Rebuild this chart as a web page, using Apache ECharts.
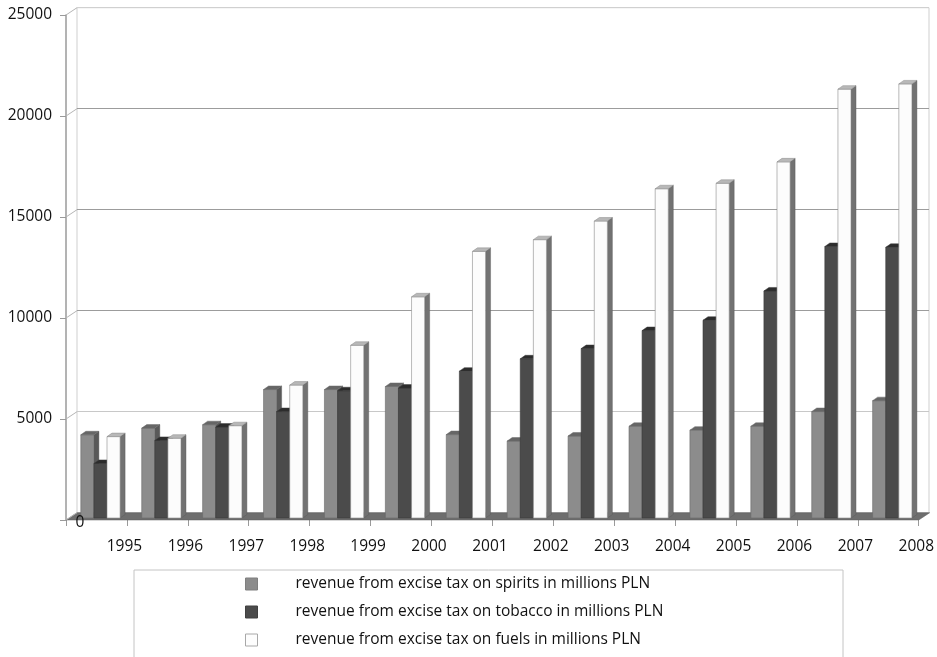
<!DOCTYPE html>
<html>
<head>
<meta charset="utf-8">
<script src="https://cdn.jsdelivr.net/npm/echarts@6/dist/echarts.min.js"></script>
<style>
html,body{margin:0;padding:0;background:#fff;}
#main{width:937px;height:657px;}
</style>
</head>
<body>
<div id="main"></div>
<script>
const categories = ['1995','1996','1997','1998','1999','2000','2001','2002','2003','2004','2005','2006','2007','2008'];
const spiritsValues = [4120, 4450, 4620, 6360, 6360, 6510, 4130, 3810, 4060, 4540, 4350, 4540, 5270, 5810];
const tobaccoValues = [2700, 3840, 4500, 5270, 6300, 6430, 7270, 7880, 8390, 9280, 9790, 11240, 13440, 13400];
const fuelsValues = [4030, 3950, 4570, 6580, 8550, 10950, 13200, 13780, 14700, 16300, 16570, 17630, 21230, 21490];
const yTickValues = [0, 5000, 10000, 15000, 20000, 25000];
const seriesNames = [
  'revenue from excise tax on spirits in millions PLN',
  'revenue from excise tax on tobacco in millions PLN',
  'revenue from excise tax on fuels in millions PLN'
];

const FONT = 'Open Sans';
const TEXT_COLOR = '#111111';
const DEPTH_X = 11, DEPTH_Y = -7.3;   // back wall offset
const BAR_OFF_X = 4, BAR_OFF_Y = -2;  // bars slightly behind front plane
const SX = 5, SY = 3.5;               // bar depth faces

const palettes = [
  {front:'#8c8c8c', top:'#666666', side:'#595959', stroke:'#6a6a6a'},
  {front:'#4b4b4b', top:'#2c2c2c', side:'#363636', stroke:'#3a3a3a'},
  {front:'#fcfcfc', top:'#b8b8b8', side:'#727272', stroke:'#8a8a8a'}
];

function barRender(si){
  const pal = palettes[si];
  return function(params, api){
    const idx = api.value(0), v = api.value(1);
    const band = api.size([1, 0])[0];
    const bw = band * 0.215;
    const c = api.coord([idx, v]);
    const b = api.coord([idx, 0]);
    const x0 = c[0] - 1.5 * bw + si * bw + BAR_OFF_X;
    const yTop = c[1] + BAR_OFF_Y, yBase = b[1] + BAR_OFF_Y;
    return {type:'group', children:[
      {type:'polygon', shape:{points:[[x0+bw,yBase],[x0+bw,yTop],[x0+bw+SX,yTop-SY],[x0+bw+SX,yBase-SY]]},
        style:{fill:pal.side, stroke:'#555', lineWidth:0.4}},
      {type:'rect', shape:{x:x0, y:yTop, width:bw, height:yBase-yTop},
        style:{fill:pal.front, stroke:pal.stroke, lineWidth:0.6}},
      {type:'polygon', shape:{points:[[x0,yTop],[x0+bw,yTop],[x0+bw+SX,yTop-SY],[x0+SX,yTop-SY]]},
        style:{fill:pal.top, stroke:pal.stroke, lineWidth:0.5}}
    ]};
  };
}

const chart = echarts.init(document.getElementById('main'), null, {renderer:'canvas'});

const option = {
  animation: false,
  backgroundColor: '#fff',
  grid: [
    {left: 66, right: 18, top: 15, bottom: 137},
    {left: 77, right: 8, top: 7.7, bottom: 144.3, show: true, borderColor: '#cfcfcf', borderWidth: 1, backgroundColor: 'transparent'}
  ],
  xAxis: [
    {type:'category', data: categories, gridIndex: 0, boundaryGap: true,
     axisLine:{show:false},
     axisTick:{show:true, length:6, lineStyle:{color:'#9a9a9a'}},
     axisLabel:{fontFamily:FONT, fontSize:15.5, color:TEXT_COLOR, margin:19, padding:[0,0,0,56]}},
    {type:'value', gridIndex: 1, min:0, max:1, show:false}
  ],
  yAxis: [
    {type:'value', gridIndex:0, min:0, max:25000, interval:5000,
     axisLine:{show:true, lineStyle:{color:'#9a9a9a', width:1.5}},
     axisTick:{show:true, length:6, lineStyle:{color:'#9a9a9a'}},
     splitLine:{show:false},
     axisLabel:{fontFamily:FONT, fontSize:15.5, color:TEXT_COLOR, margin:14, padding:[8,0,0,0],
       formatter: v => v === 0 ? '' : String(v)}},
    {type:'value', gridIndex:1, min:0, max:25000, interval:5000,
     axisLine:{show:false}, axisTick:{show:false}, axisLabel:{show:false},
     splitLine:{show:true, lineStyle:{color:['#d0d0d0','#c8c8c8','#9c9c9c','#9c9c9c','#9c9c9c','#d0d0d0'], width:1}}}
  ],
  legend: {
    orient:'vertical', left:245, top:576, padding:0, itemWidth:12, itemHeight:12, itemGap:12, icon:'rect',
    textStyle:{fontFamily:FONT, fontSize:15.5, color:TEXT_COLOR, lineHeight:16, padding:[0,0,0,33]},
    data:[
      {name:seriesNames[0], itemStyle:{color:'#8c8c8c', borderColor:'#7f7f7f', borderWidth:1}},
      {name:seriesNames[1], itemStyle:{color:'#4b4b4b', borderColor:'#404040', borderWidth:1}},
      {name:seriesNames[2], itemStyle:{color:'#fdfdfd', borderColor:'#a8a8a8', borderWidth:1}}
    ]
  },
  series: [
    {type:'custom', name:'floor', xAxisIndex:0, yAxisIndex:0, silent:true, z:1,
     data:[[0,0]],
     renderItem: function(params, api){
       const cs = params.coordSys;
       const yb = api.coord([0,0])[1];
       return {type:'polygon', shape:{points:[[cs.x, yb],[cs.x+cs.width, yb],[cs.x+cs.width+DEPTH_X, yb+DEPTH_Y],[cs.x+DEPTH_X, yb+DEPTH_Y]]},
         style:{fill:'#6e6e6e', stroke:'#5e5e5e', lineWidth:0.5}};
     }},
    {type:'custom', name:'sidewall', xAxisIndex:0, yAxisIndex:0, silent:true, z:1,
     data: yTickValues.map(v => [0, v]),
     renderItem: function(params, api){
       const cs = params.coordSys;
       const y = api.coord([0, api.value(1)])[1];
       return {type:'line', shape:{x1:cs.x, y1:y, x2:cs.x+DEPTH_X, y2:y+DEPTH_Y},
         style:{stroke:'#b5b5b5', lineWidth:1}};
     }},
    {type:'custom', name:seriesNames[0], xAxisIndex:0, yAxisIndex:0, z:2, itemStyle:{color:'#8c8c8c'},
     encode:{x:0, y:1}, data: spiritsValues.map((v,i)=>[i,v]), renderItem: barRender(0)},
    {type:'custom', name:seriesNames[1], xAxisIndex:0, yAxisIndex:0, z:2, itemStyle:{color:'#4b4b4b'},
     encode:{x:0, y:1}, data: tobaccoValues.map((v,i)=>[i,v]), renderItem: barRender(1)},
    {type:'custom', name:seriesNames[2], xAxisIndex:0, yAxisIndex:0, z:2, itemStyle:{color:'#fdfdfd'},
     encode:{x:0, y:1}, data: fuelsValues.map((v,i)=>[i,v]), renderItem: barRender(2)}
  ]
};
chart.setOption(option);

// legend frame and the zero label placed next to the floor corner, positioned from the axis scale
const zeroY = chart.convertToPixel({yAxisIndex:0}, 0);
chart.setOption({graphic:[
  {type:'rect', left:131.5, top:567.5, shape:{width:709, height:100},
   style:{fill:'none', stroke:'#c4c4c4', lineWidth:1}, silent:true, z:-1},
  {type:'text', x:80, y:zeroY + 3, silent:true, z:10,
   style:{text:'0', fontFamily:FONT, fontSize:15.5, fill:TEXT_COLOR, textAlign:'center', textVerticalAlign:'middle'}}
]});
</script>
</body>
</html>
